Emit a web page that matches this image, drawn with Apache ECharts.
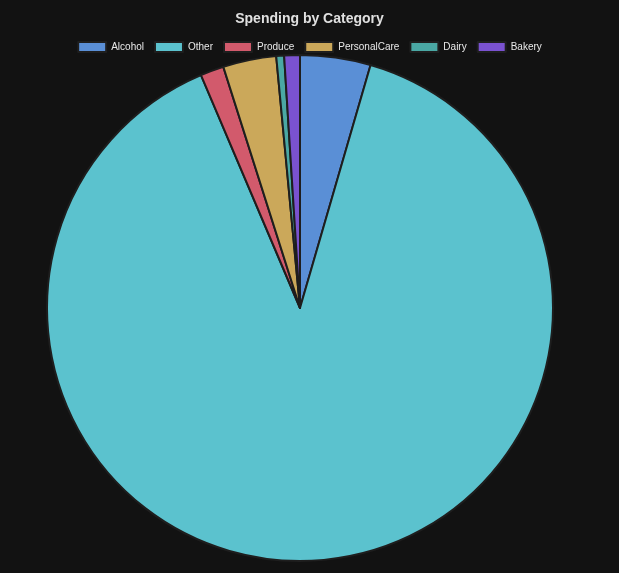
<!DOCTYPE html>
<html><head><meta charset="utf-8">
<script src="https://cdn.jsdelivr.net/npm/echarts@6/dist/echarts.min.js"></script>
<style>html,body{margin:0;padding:0;background:#121212;}#c{width:619px;height:573px;}</style>
</head><body><div id="c"></div>
<script>
const categories = ['Alcohol','Other','Produce','PersonalCare','Dairy','Bakery'];
const values = [4.5, 89.1, 1.5, 3.4, 0.5, 1.0];
const colors = ['#5a8fd6','#5bc2ce','#d25a6c','#cba85a','#4aa8a4','#7a52d0'];
const chart = echarts.init(document.getElementById('c'));
chart.setOption({
  backgroundColor:'#121212',
  title:{text:'Spending by Category',left:'center',top:7,textStyle:{color:'#e0e0e0',fontSize:14,fontWeight:'bold',fontFamily:'Liberation Sans, Arial'}},
  legend:{top:36,left:'center',itemWidth:28,itemHeight:10,itemGap:10,icon:'rect',textStyle:{color:'#e8e8e8',fontSize:10,fontFamily:'Liberation Sans, Arial'},data:categories},
  series:[{type:'pie',center:[300,308],radius:[0,253],startAngle:90,clockwise:true,label:{show:false},labelLine:{show:false},
    itemStyle:{borderColor:'#1e1e1e',borderWidth:2},
    emphasis:{disabled:true},
    data:categories.map((c,i)=>({name:c,value:values[i],itemStyle:{color:colors[i]}}))}]
});
</script></body></html>
